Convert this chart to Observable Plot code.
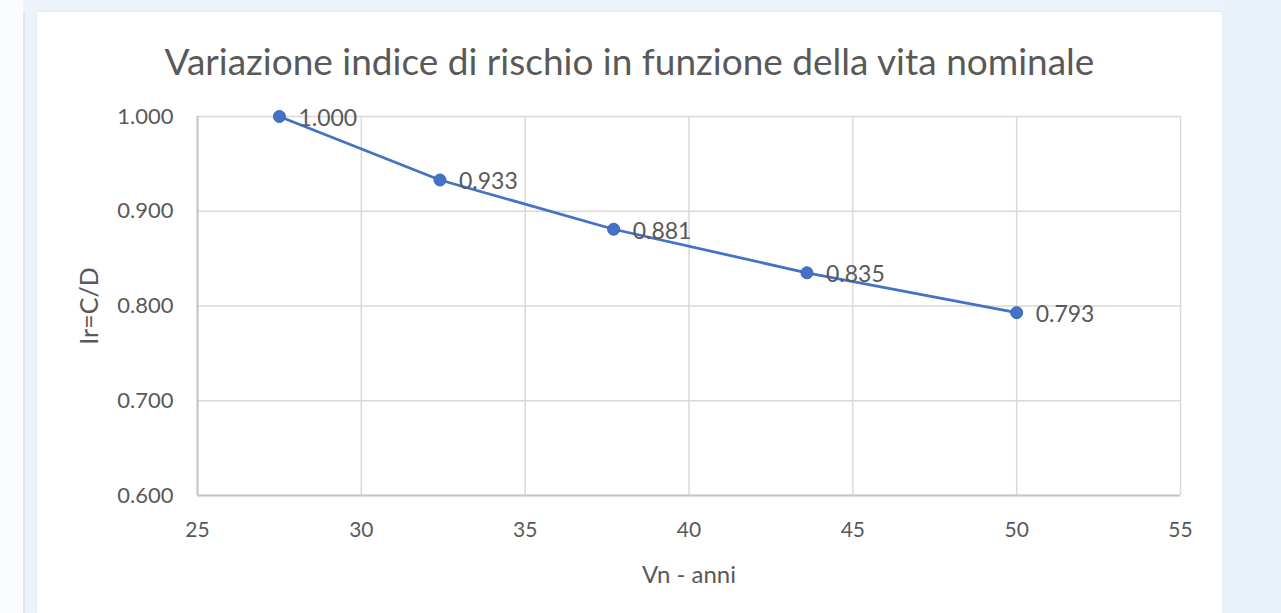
<!DOCTYPE html>
<html>
<head>
<meta charset="utf-8">
<script src="https://cdn.jsdelivr.net/npm/d3@7"></script>
<script src="https://cdn.jsdelivr.net/npm/@observablehq/plot@0.6"></script>
<style>
  html, body { margin: 0; padding: 0; }
  body { width: 1281px; height: 613px; overflow: hidden; background: #edf3fb; font-family: Lato, "Open Sans", sans-serif; }
  #wrap { position: relative; width: 1281px; height: 613px; }
  .bg { position: absolute; }
  #title { position: absolute; left: 37px; width: 1185px; top: 39px; line-height: 44px; text-align: center; font-size: 37px; color: #595959; font-family: Lato, sans-serif; white-space: nowrap; }
  #chart { position: absolute; left: 0; top: 0; }
</style>
</head>
<body>
<div id="wrap">
  <div class="bg" style="left:0;top:0;width:23px;height:613px;background:#fbfcfe;"></div>
  <div class="bg" style="left:23px;top:12px;width:2px;height:601px;background:#dfe5ec;"></div>
  <div class="bg" style="left:37px;top:12px;width:1185px;height:601px;background:#ffffff;box-shadow:0 0 2px #d8dee6;"></div>
  <div class="bg" style="left:1224px;top:0;width:57px;height:613px;background:#e8f0fa;"></div>
  <div id="title">Variazione indice di rischio in funzione della vita nominale</div>
  <div id="chart"></div>
</div>
<script>
const vn = [27.5, 32.4, 37.7, 43.6, 50];
const ir = [1.000, 0.933, 0.881, 0.835, 0.793];
const xTicks = [25, 30, 35, 40, 45, 50, 55];
const yTicks = [0.6, 0.7, 0.8, 0.9, 1.0];
const xLabel = "Vn - anni";
const yLabel = "Ir=C/D";

const data = vn.map((v, i) => ({x: v, y: ir[i]}));
const fmt = d3.format(".3f");

const chart = Plot.plot({
  width: 1281,
  height: 613,
  marginLeft: 197,
  marginRight: 101,
  marginTop: 116,
  marginBottom: 118,
  style: {background: "transparent", fontFamily: "Lato, sans-serif", fontSize: "22px", color: "#595959", overflow: "visible"},
  x: {domain: [25, 55]},
  y: {domain: [0.6, 1.0]},
  marks: [
    Plot.gridX(xTicks, {stroke: "#d9d9d9", strokeOpacity: 1, strokeWidth: 1.5}),
    Plot.gridY(yTicks, {stroke: "#d9d9d9", strokeOpacity: 1, strokeWidth: 1.5}),
    Plot.ruleX([25], {stroke: "#c6c6c6", strokeWidth: 2}),
    Plot.ruleY([0.6], {stroke: "#c6c6c6", strokeWidth: 2}),
    Plot.axisY(yTicks, {tickSize: 0, tickPadding: 24, tickFormat: fmt, fontSize: 22, label: null}),
    Plot.axisX(xTicks, {tickSize: 0, tickPadding: 27, fontSize: 21, label: null}),
    Plot.axisY({tickSize: 0, ticks: [], label: yLabel, labelAnchor: "center", labelOffset: 117, labelArrow: "none", fontSize: 25}),
    Plot.axisX({tickSize: 0, ticks: [], label: xLabel, labelAnchor: "center", labelOffset: 87, labelArrow: "none", fontSize: 24}),
    Plot.line(data, {x: "x", y: "y", stroke: "#4472c4", strokeWidth: 2.8}),
    Plot.dot(data, {x: "x", y: "y", r: 6, fill: "#4472c4", stroke: "#3a66b5", strokeWidth: 1}),
    Plot.text(data, {x: "x", y: "y", text: d => fmt(d.y), dx: 19, dy: 2, textAnchor: "start", fill: "#595959", fontSize: 23})
  ]
});
document.getElementById("chart").appendChild(chart);
</script>
</body>
</html>
